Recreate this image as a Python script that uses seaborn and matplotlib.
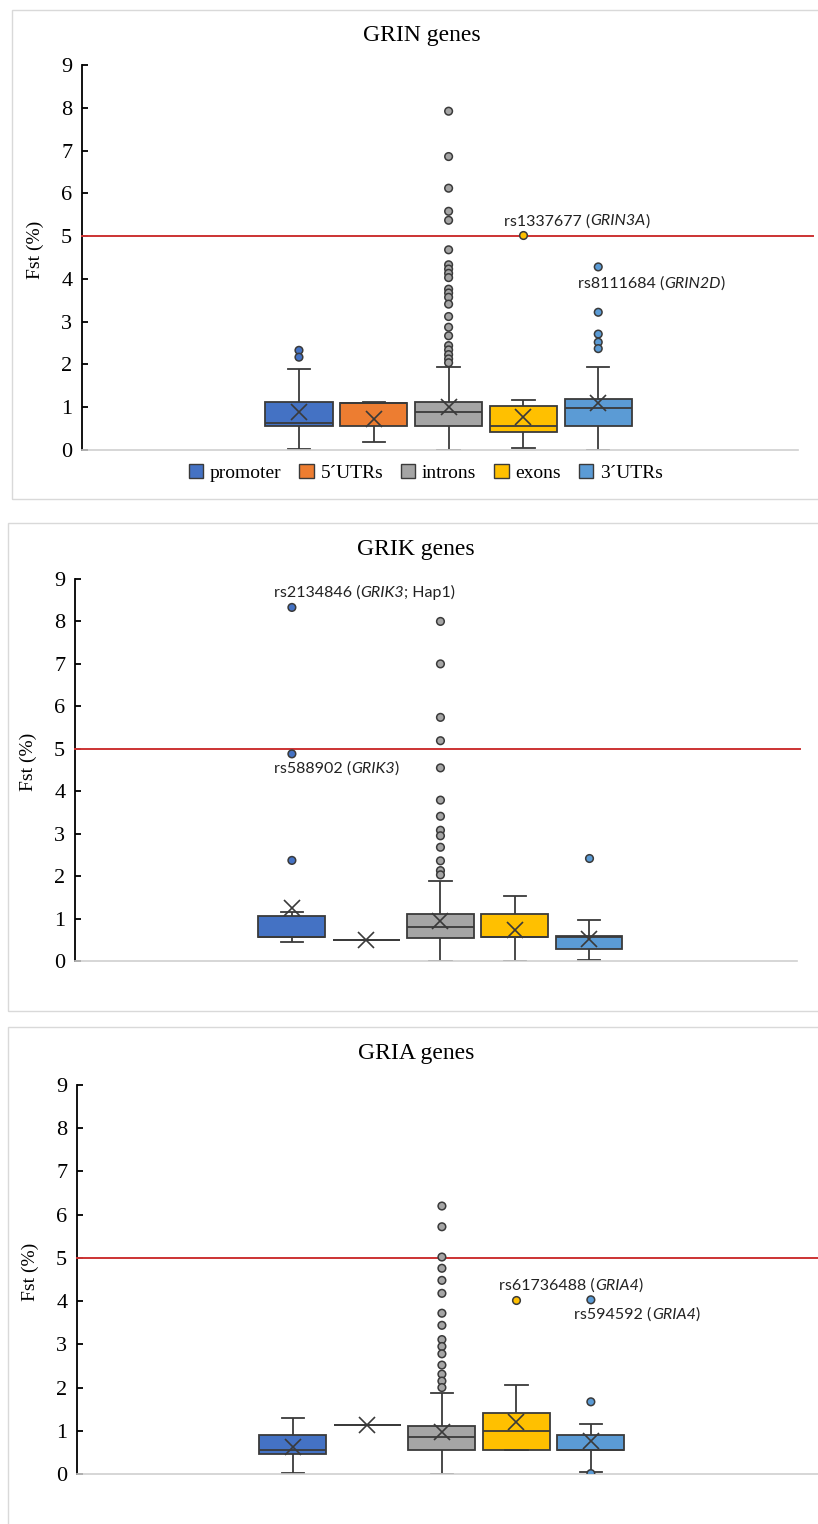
import numpy as np
import pandas as pd
import matplotlib
matplotlib.use("Agg")
import matplotlib.pyplot as plt
from matplotlib.lines import Line2D
from matplotlib.patches import Patch, Rectangle
import seaborn as sns

# regions and Excel-like colours
REGIONS = ["promoter", "5´UTRs", "introns", "exons", "3´UTRs"]
COLORS = ["#4472C4", "#ED7D31", "#A5A5A5", "#FFC000", "#5B9BD5"]

# GRIN genes: whisker low, q1, median, q3, whisker high, mean, outliers
GRIN_LOW = [0.02, 0.18, 0.00, 0.04, 0.00]
GRIN_Q1 = [0.57, 0.55, 0.57, 0.41, 0.57]
GRIN_MED = [0.64, 1.11, 0.88, 0.57, 0.98]
GRIN_Q3 = [1.13, 1.11, 1.12, 1.02, 1.19]
GRIN_HIGH = [1.90, 1.12, 1.94, 1.16, 1.94]
GRIN_MEAN = [0.88, 0.73, 1.01, 0.78, 1.09]
GRIN_OUT = [
    [2.33, 2.17],
    [],
    [7.92, 6.86, 6.12, 5.58, 5.37, 4.68, 4.33, 4.23, 4.13, 4.03, 3.76,
     3.67, 3.57, 3.41, 3.12, 2.87, 2.67, 2.44, 2.34, 2.23, 2.13, 2.04],
    [5.03],
    [4.28, 3.22, 2.71, 2.52, 2.37],
]

# GRIK genes
GRIK_LOW = [0.45, 0.50, 0.00, 0.00, 0.02]
GRIK_Q1 = [0.56, 0.50, 0.55, 0.56, 0.28]
GRIK_MED = [0.56, 0.50, 0.79, 0.56, 0.57]
GRIK_Q3 = [1.05, 0.50, 1.11, 1.11, 0.58]
GRIK_HIGH = [1.15, 0.50, 1.88, 1.54, 0.97]
GRIK_MEAN = [1.24, 0.50, 0.95, 0.74, 0.53]
GRIK_OUT = [
    [8.33, 4.88, 2.37],
    [],
    [8.00, 7.00, 5.74, 5.19, 4.55, 3.79, 3.41, 3.08, 2.95, 2.68, 2.36,
     2.13, 2.03],
    [],
    [2.42],
]

# GRIA genes
GRIA_LOW = [0.02, 1.14, 0.00, 0.55, 0.05]
GRIA_Q1 = [0.46, 1.14, 0.55, 0.55, 0.55]
GRIA_MED = [0.55, 1.14, 0.85, 1.00, 0.55]
GRIA_Q3 = [0.91, 1.14, 1.10, 1.41, 0.91]
GRIA_HIGH = [1.29, 1.14, 1.87, 2.07, 1.15]
GRIA_MEAN = [0.62, 1.14, 0.98, 1.21, 0.77]
GRIA_OUT = [
    [],
    [],
    [6.20, 5.72, 5.02, 4.76, 4.48, 4.18, 3.72, 3.44, 3.11, 2.95, 2.78,
     2.52, 2.31, 2.15, 2.00],
    [4.03],
    [4.03, 1.67, 0.01],
]

EDGE = "#3a3a3a"
RED = "#cc3333"
W, H = 818, 1524

plt.rcParams["font.family"] = "serif"
plt.rcParams["font.serif"] = ["Liberation Serif", "DejaVu Serif"]
NOTE_FONT = ["Lato", "DejaVu Sans"]
NOTE_SIZE = 11.5


def box_frame(low, q1, med, q3, high):
    rows = []
    for reg, *vals in zip(REGIONS, low, q1, med, q3, high):
        rows += [(reg, v) for v in vals]
    return pd.DataFrame(rows, columns=["region", "fst"])


def out_frame(outs):
    rows = [(reg, v) for reg, vals in zip(REGIONS, outs) for v in vals]
    return pd.DataFrame(rows, columns=["region", "fst"])


def note(ax, x, y, parts):
    t = ax.text(x, y, parts[0][0], ha="left", va="center",
                fontsize=NOTE_SIZE, family=NOTE_FONT, color="#222222")
    for txt, ital in parts[1:]:
        t = ax.annotate(txt, xy=(1, 0), xycoords=t, ha="left", va="bottom",
                        fontsize=NOTE_SIZE, family=NOTE_FONT, color="#222222",
                        style="italic" if ital else "normal")


def panel(fig, box_px, xlim, title, title_xy, stats, mean, outs, notes,
          red_end, frame_px):
    l, r, t, b = box_px
    ax = fig.add_axes([l / W, 1 - b / H, (r - l) / W, (b - t) / H])

    fl, ft, fb = frame_px
    fig.patches.append(Rectangle((fl / W, 1 - fb / H), 1.2, (fb - ft) / H,
                                 transform=fig.transFigure, fill=False,
                                 edgecolor="#d9d9d9", lw=1.0))

    sns.boxplot(data=box_frame(*stats), x="region", y="fst", hue="region",
                order=REGIONS, hue_order=REGIONS, palette=COLORS,
                saturation=1, width=0.9, whis=(0, 100), showfliers=False,
                linecolor=EDGE, linewidth=1.3, legend=False, capwidths=0.3,
                ax=ax)

    od = out_frame(outs)
    if len(od):
        sns.stripplot(data=od, x="region", y="fst", hue="region",
                      order=REGIONS, hue_order=REGIONS, palette=COLORS,
                      jitter=False, size=5.5, edgecolor=EDGE, linewidth=1.1,
                      legend=False, zorder=4, ax=ax)

    md = pd.DataFrame({"region": REGIONS, "fst": mean})
    sns.pointplot(data=md, x="region", y="fst", order=REGIONS, color=EDGE,
                  marker="x", linestyle="none", errorbar=None,
                  markersize=11, markeredgewidth=1.2, ax=ax)

    ax.add_line(Line2D([0, red_end], [5, 5], transform=ax.get_yaxis_transform(),
                       color=RED, lw=1.4, clip_on=False, zorder=3))

    ax.set_xlim(*xlim)
    ax.set_ylim(0, 9)
    ax.set_yticks(range(10))
    ax.set_xticks([])
    ax.set_xlabel("")
    ax.set_ylabel("Fst (%)", fontsize=14)
    ax.yaxis.set_label_coords(-38 / (r - l), 0.52)
    for s in ("top", "right"):
        ax.spines[s].set_visible(False)
    ax.spines["bottom"].set_color("#cfcfcf")
    ax.spines["bottom"].set_linewidth(1.2)
    ax.spines["left"].set_color("black")
    ax.spines["left"].set_linewidth(1.3)
    ax.tick_params(axis="y", direction="in", length=4, width=1.3,
                   labelsize=16, pad=7)
    ax.set_facecolor("none")

    fig.text(title_xy[0] / W, 1 - title_xy[1] / H, title, ha="center",
             va="center", fontsize=17)
    for x, y, parts in notes:
        note(ax, x, y, parts)
    return ax


fig = plt.figure(figsize=(W / 100, H / 100), dpi=100)

ax1 = panel(fig, (82, 798, 65, 450), (-2.90, 6.67), "GRIN genes", (422, 35),
            (GRIN_LOW, GRIN_Q1, GRIN_MED, GRIN_Q3, GRIN_HIGH), GRIN_MEAN,
            GRIN_OUT,
            [(2.74, 5.35, [("rs1337677 (", False), ("GRIN3A", True), (")", False)]),
             (3.73, 3.88, [("rs8111684 (", False), ("GRIN2D", True), (")", False)])],
            1.021, (12, 10, 499))

handles = [Patch(facecolor=c, edgecolor=EDGE, lw=1.0) for c in COLORS]
ax1.legend(handles, REGIONS, loc="center", bbox_to_anchor=(0.48, -0.059),
           ncol=5, frameon=False, fontsize=14, handlelength=0.75,
           handleheight=0.75, handletextpad=0.35, columnspacing=0.9,
           borderaxespad=0)

panel(fig, (75, 797, 579, 961), (-2.92, 6.80), "GRIK genes", (416, 549),
      (GRIK_LOW, GRIK_Q1, GRIK_MED, GRIK_Q3, GRIK_HIGH), GRIK_MEAN, GRIK_OUT,
      [(-0.24, 8.67, [("rs2134846 (", False), ("GRIK3", True), ("; Hap1)", False)]),
       (-0.24, 4.53, [("rs588902 (", False), ("GRIK3", True), (")", False)])],
      1.004, (8, 523, 1011))

panel(fig, (77, 818, 1085, 1474), (-2.90, 7.05), "GRIA genes", (416, 1053),
      (GRIA_LOW, GRIA_Q1, GRIA_MED, GRIA_Q3, GRIA_HIGH), GRIA_MEAN, GRIA_OUT,
      [(2.77, 4.35, [("rs61736488 (", False), ("GRIA4", True), (")", False)]),
       (3.78, 3.69, [("rs594592 (", False), ("GRIA4", True), (")", False)])],
      1.0, (8, 1027, 1530))

fig.savefig("out.png", dpi=100, facecolor="white")
